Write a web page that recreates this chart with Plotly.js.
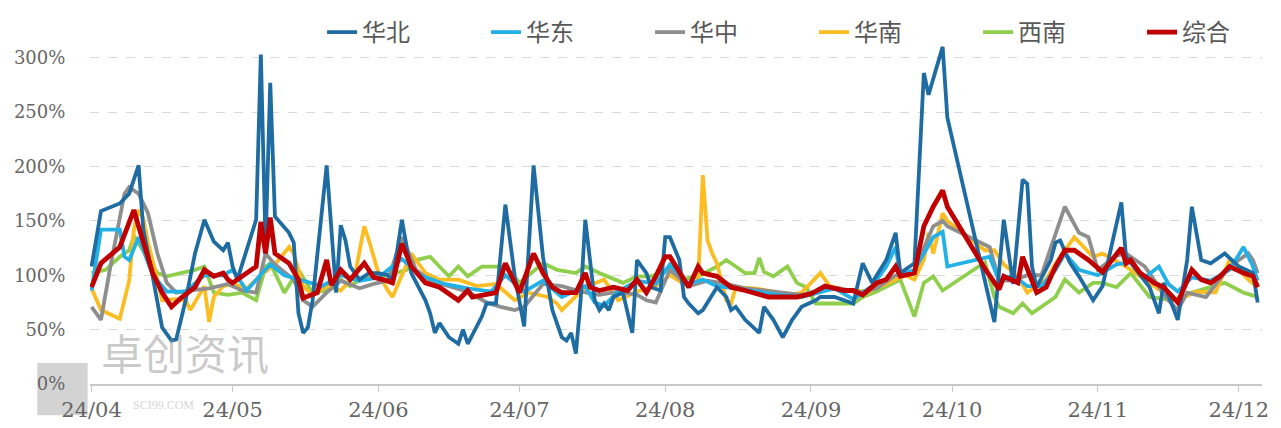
<!DOCTYPE html>
<html>
<head>
<meta charset="utf-8">
<script src="https://cdn.plot.ly/plotly-3.0.1.min.js"></script>
<style>html,body{margin:0;padding:0;background:#fff}#chart{width:1281px;height:428px}</style>
</head>
<body>
<div id="chart"></div>
<script>
// 华北
const nbDates = ['04-01','04-03','04-07','04-09','04-11','04-12','04-14','04-16','04-18','04-19','04-21','04-23','04-25','04-27','04-29','04-30',
 '05-01','05-02','05-06','05-07','05-08','05-09','05-10','05-13','05-14','05-15','05-16','05-17','05-18','05-21','05-23','05-24','05-25','05-26','05-28','05-30',
 '06-01','06-03','06-04','06-06','06-08','06-11','06-12','06-13','06-14','06-16','06-18','06-19','06-20','06-23','06-24','06-26','06-28','06-30',
 '07-02','07-04','07-06','07-08','07-10','07-11','07-12','07-13','07-14','07-15','07-17','07-18','07-19','07-20','07-21','07-23','07-25','07-26','07-28','07-29','07-31',
 '08-01','08-02','08-04','08-05','08-06','08-08','08-09','08-12','08-14','08-15','08-16','08-18','08-21','08-22','08-24','08-26','08-28','08-30',
 '09-02','09-03','09-06','09-10','09-12','09-14','09-17','09-19','09-20','09-22','09-23','09-25','09-26','09-29','09-30',
 '10-10','10-12','10-14','10-16','10-17','10-18','10-19','10-22','10-23','10-24','10-26','10-28','10-31',
 '11-02','11-06','11-07','11-12','11-14','11-15','11-18','11-20','11-21','11-23','11-25','11-28','12-01','12-04','12-05'];
const nbVals = [108,159,166,175,201,142,99,52,40,41,77,120,151,131,123,130,
 108,96,151,303,128,277,154,139,130,65,47,52,77,201,84,146,132,108,96,102,
 102,100,95,151,102,77,65,47,56,43,37,50,37,62,74,74,165,99,
 53,201,117,68,43,40,47,28,77,151,77,68,74,68,80,84,47,114,102,89,86,
 135,135,114,80,74,65,68,89,80,68,71,59,47,71,59,43,59,71,
 77,80,80,74,111,93,114,139,102,108,111,286,266,310,245,
 57,151,92,188,184,108,89,114,130,132,112,99,77,
 90,167,117,89,65,93,59,114,163,114,111,120,108,102,75];

// 华东
const hdDates = ['04-01','04-03','04-07','04-08','04-09','04-11','04-14','04-17','04-21','04-25','04-29',
 '05-01','05-04','05-06','05-09','05-12','05-15','05-20','05-24','05-28',
 '06-01','06-06','06-10','06-15','06-20','06-25','06-28',
 '07-02','07-06','07-10','07-15','07-17','07-19','07-22','07-26','07-30',
 '08-02','08-06','08-09','08-12','08-16','08-20','08-25','08-30',
 '09-03','09-06','09-10','09-14','09-17','09-19','09-20','09-23','09-25','09-27','09-29','09-30',
 '10-09','10-11','10-14','10-17','10-20','10-23','10-25','10-28',
 '11-01','11-05','11-08','11-11','11-14','11-16','11-18','11-21','11-25','11-29','12-02','12-04','12-05'];
const hdVals = [86,142,142,117,114,135,100,85,85,100,100,
 105,86,96,110,100,96,90,100,95,
 98,115,100,92,88,85,100,
 85,95,80,90,75,72,85,95,92,
 110,92,96,90,88,85,82,80,
 85,88,78,90,108,126,100,105,120,135,140,108,
 117,95,100,90,90,105,120,105,
 100,110,112,98,108,92,85,98,95,105,126,108,95];

// 华中
const hzDates = ['04-01','04-03','04-05','04-08','04-09','04-11','04-13','04-15','04-17','04-19','04-22','04-26','04-30',
 '05-03','05-06','05-08','05-10','05-14','05-16','05-18','05-21','05-24','05-28','05-31',
 '06-03','06-06','06-09','06-12','06-16','06-20','06-24','06-27','06-30',
 '07-02','07-06','07-10','07-14','07-18','07-22','07-26','07-28','07-30',
 '08-02','08-06','08-10','08-14','08-18','08-22','08-26','08-30',
 '09-03','09-07','09-11','09-15','09-19','09-23','09-25','09-27','09-29','09-30',
 '10-09','10-11','10-14','10-17','10-20','10-23','10-25','10-28','10-30',
 '11-01','11-05','11-07','11-11','11-16','11-18','11-20','11-24','11-29','12-03','12-04','12-05'];
const hzVals = [71,59,108,175,181,175,157,120,93,84,86,88,92,
 86,84,120,110,96,77,71,84,95,88,92,
 95,135,105,95,90,85,75,71,68,
 71,92,90,85,82,85,82,77,75,
 105,90,95,92,88,86,84,82,
 86,88,84,88,100,102,125,145,150,145,
 126,95,95,100,100,139,163,139,135,
 105,118,120,108,77,68,84,80,108,120,114,102];

// 华南
const hnDates = ['04-01','04-03','04-07','04-09','04-10','04-11','04-12','04-13','04-15','04-16','04-19','04-21','04-22','04-24','04-25','04-26','04-27','04-29',
 '05-01','05-04','05-07','05-10','05-13','05-14','05-16','05-18','05-21','05-24','05-27','05-29','05-30',
 '06-01','06-03','06-04','06-08','06-11','06-14','06-18','06-22','06-26','06-30',
 '07-03','07-07','07-09','07-10','07-15','07-19','07-22','07-26','07-30',
 '08-02','08-05','08-08','08-09','08-10','08-11','08-12','08-14','08-15','08-16','08-20','08-24','08-28','08-30',
 '09-03','09-05','09-09','09-13','09-17','09-21','09-23','09-25','09-26','09-27','09-29','09-30',
 '10-08','10-10','10-12','10-15','10-17','10-21','10-23','10-25','10-27','10-29','10-31',
 '11-02','11-07','11-11','11-15','11-18','11-22','11-26','11-29','12-03','12-05'];
const hnVals = [88,68,60,95,142,160,152,130,96,77,78,77,68,82,90,57,80,90,
 92,88,100,110,126,120,90,82,90,86,100,145,132,
 102,86,80,120,102,96,96,90,92,77,
 84,80,74,68,89,96,77,85,90,
 100,92,95,192,132,120,111,77,74,89,88,85,82,84,
 102,90,86,85,92,100,96,114,139,120,157,150,
 123,123,110,99,84,96,111,123,135,126,117,
 120,108,96,84,77,85,84,114,96,89];

// 西南
const xnDates = ['04-01','04-04','04-07','04-09','04-10','04-12','04-15','04-17','04-20','04-23','04-25','04-27','04-30',
 '05-03','05-06','05-08','05-09','05-10','05-12','05-15','05-18','05-21','05-24','05-26','05-28','05-31',
 '06-03','06-07','06-09','06-12','06-14','06-16','06-18','06-20','06-23','06-25','06-28',
 '07-01','07-06','07-09','07-13','07-15','07-18','07-23','07-26','07-29',
 '08-02','08-04','08-08','08-12','08-14','08-16','08-18','08-20','08-21','08-22','08-24','08-27','08-29','08-31',
 '09-02','09-05','09-10','09-12','09-15','09-20','09-22','09-23','09-25','09-27','09-29',
 '10-08','10-10','10-11','10-14','10-16','10-18','10-21','10-23','10-25','10-28','10-31',
 '11-02','11-05','11-08','11-12','11-17','11-21','11-25','11-28','12-02','12-05'];
const xnVals = [102,105,117,123,136,123,102,99,102,105,108,84,82,
 84,77,108,111,102,84,105,84,86,96,90,96,99,
 100,105,114,117,108,99,108,99,108,108,108,
 93,111,105,102,108,102,93,99,99,
 105,96,99,108,114,108,102,102,116,103,99,108,93,89,
 74,74,74,80,85,96,74,62,93,99,86,
 112,80,71,65,74,65,74,80,96,84,93,
 93,89,102,80,77,84,89,93,84,80];

// 综合
const zhDates = ['04-01','04-03','04-07','04-10','04-11','04-14','04-16','04-18','04-20','04-23','04-25','04-27','04-29','04-30',
 '05-01','05-06','05-07','05-08','05-09','05-10','05-13','05-15','05-16','05-19','05-21','05-22','05-24','05-26','05-29','05-31',
 '06-02','06-04','06-06','06-08','06-11','06-14','06-18','06-20','06-21','06-26','06-28',
 '07-01','07-04','07-06','07-08','07-10','07-13','07-15','07-16','07-18','07-21','07-24','07-26','07-28','07-30',
 '08-01','08-02','08-04','08-06','08-08','08-09','08-12','08-15','08-18','08-20','08-23','08-26','08-29',
 '09-01','09-04','09-08','09-10','09-12','09-15','09-17','09-19','09-20','09-23','09-25','09-27','09-29','09-30',
 '10-08','10-11','10-12','10-15','10-16','10-18','10-19','10-21','10-23','10-25','10-27','10-30',
 '11-02','11-06','11-07','11-08','11-10','11-13','11-15','11-18','11-21','11-23','11-25','11-27','11-29','12-02','12-04','12-05'];
const zhVals = [89,111,126,160,145,102,84,71,79,89,105,99,102,96,
 93,108,149,120,153,120,111,96,79,84,114,91,105,96,111,98,
 96,93,129,108,93,89,77,86,80,84,111,
 84,120,102,89,84,84,102,89,86,89,86,96,84,99,
 117,117,102,89,108,102,99,89,86,84,80,80,80,
 83,90,86,86,82,93,96,108,99,102,145,163,178,163,
 106,87,99,93,117,96,84,89,108,123,123,114,
 103,125,111,114,102,93,89,75,105,96,93,99,108,102,99,89];

const seriesNames = ['华北','华东','华中','华南','西南','综合'];
const seriesColors = ['#1f6ca3','#22b1e6','#8e8e8e','#fbbd22','#8fcf4c','#c00000'];
const seriesDates = [nbDates, hdDates, hzDates, hnDates, xnDates, zhDates];
const seriesVals = [nbVals, hdVals, hzVals, hnVals, xnVals, zhVals];

const yTicks = [0,50,100,150,200,250,300];
const yTickText = ['0%','50%','100%','150%','200%','250%','300%'];

const drawOrder = [4,3,2,1,0,5];
const traces = seriesNames.map((n,i)=>({
  type:'scatter', mode:'lines', name:n,
  x: seriesDates[i].map(d=>'2024-'+d),
  y: seriesVals[i],
  line:{color:seriesColors[i], width: i===5 ? 4.8 : 3.8},
  legendrank: i+1
}));
const ordered = drawOrder.map(i=>traces[i]);

const serif = '"DejaVu Serif", "Liberation Serif", serif';

const layout = {
  width:1281, height:428,
  margin:{l:90, r:19, t:36, b:44, autoexpand:false},
  paper_bgcolor:'#ffffff', plot_bgcolor:'#ffffff',
  showlegend:true,
  legend:{orientation:'h', x:0.198, xanchor:'left', y:1.01, yanchor:'middle',
    font:{family:'"Noto Sans CJK SC", sans-serif', size:24, color:'#595959'},
    traceorder:'normal', entrywidth:119, entrywidthmode:'pixels', bgcolor:'rgba(0,0,0,0)'},
  xaxis:{type:'date', range:['2024-03-31 16:00','2024-12-05 22:00'],
    tick0:'2024-04-01', dtick:'M1', tickformat:'%y/%m',
    ticks:'outside', ticklen:6, tickcolor:'#c8c8c8', tickwidth:1,
    showline:true, linecolor:'#c8c8c8', linewidth:1.5,
    showgrid:false, zeroline:false,
    tickfont:{family:serif, size:21, color:'#666666'}},
  yaxis:{range:[0,320], tickvals:yTicks, ticktext:yTickText,
    showgrid:true, gridcolor:'#d9d9d9', griddash:'dash', gridwidth:1,
    zeroline:false, showline:false, ticks:'outside', ticklen:20, tickcolor:'rgba(0,0,0,0)',
    tickfont:{family:serif, size:18, color:'#666666'}},
  shapes:[
    {type:'rect', xref:'paper', yref:'paper', x0:-0.045, x1:-0.002, y0:-0.09, y1:0.06,
     fillcolor:'rgba(175,175,175,0.55)', line:{width:0}, layer:'below'}
  ],
  annotations:[
    {xref:'paper', yref:'paper', x:0.008, y:0.0, xanchor:'left', yanchor:'bottom', showarrow:false,
     text:'卓创资讯', font:{family:'"Noto Sans CJK SC", sans-serif', size:42, color:'rgba(150,150,150,0.5)'}},
    {xref:'paper', yref:'paper', x:0.035, y:-0.035, xanchor:'left', yanchor:'top', showarrow:false,
     text:'SCI99.COM', font:{family:'"Liberation Serif", serif', size:12, color:'rgba(170,170,170,0.5)'}}
  ]
};

Plotly.newPlot('chart', ordered, layout, {displayModeBar:false, staticPlot:true});
</script>
</body>
</html>
